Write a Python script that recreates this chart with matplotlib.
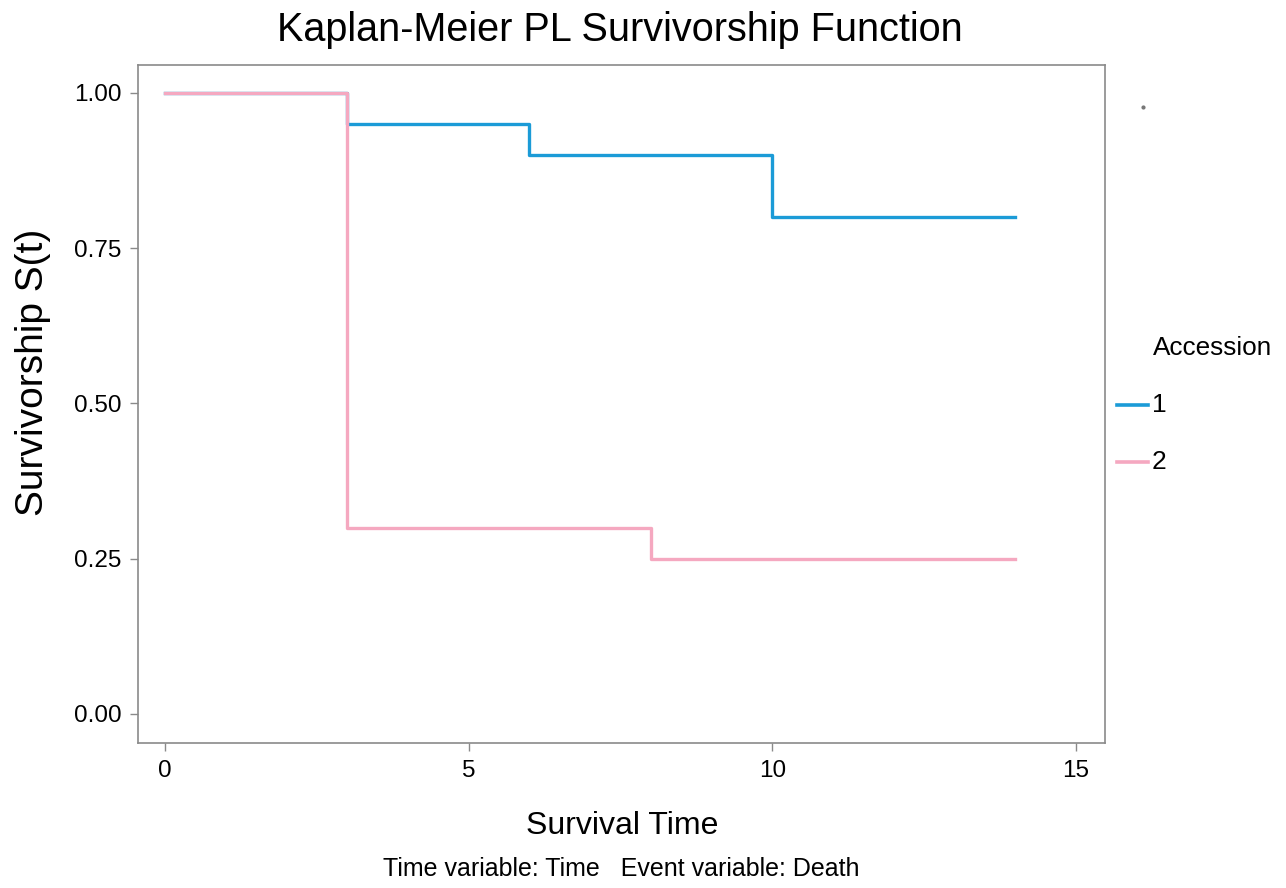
import matplotlib.pyplot as plt
from matplotlib.lines import Line2D

plt.rcParams['font.family'] = ['Liberation Sans', 'DejaVu Sans']

# survival step data (time, S(t)) per accession
time_1 = [0, 3, 6, 10, 14]
surv_1 = [1.00, 0.95, 0.90, 0.80, 0.80]
time_2 = [0, 3, 8, 14]
surv_2 = [1.00, 0.30, 0.25, 0.25]

groups = ['1', '2']
colors = ['#1b9bd7', '#f5a8c0']

xticks = [0, 5, 10, 15]
yticks = [0.00, 0.25, 0.50, 0.75, 1.00]

W, H = 1286, 888
fig = plt.figure(figsize=(W / 100, H / 100), dpi=100)
ax = fig.add_axes([0.1073, 0.1633, 0.752, 0.7635])

ax.step(time_1, surv_1, where='post', color=colors[0], lw=2.4)
ax.step(time_2, surv_2, where='post', color=colors[1], lw=2.4)

ax.set_xlim(-0.445, 15.48)
ax.set_ylim(-0.047, 1.045)
ax.set_xticks(xticks)
ax.set_xticklabels([str(t) for t in xticks])
ax.set_yticks(yticks)
ax.set_yticklabels([f'{v:.2f}' for v in yticks])

for s in ax.spines.values():
    s.set_color('#8a8a8a')
    s.set_linewidth(1.2)
ax.tick_params(colors='#8a8a8a', labelcolor='black', labelsize=17.5,
               length=6, width=1, direction='out', pad=6)

# titles and axis labels placed in pixel terms of the figure
fig.text(620 / W, 1 - 30 / H, 'Kaplan-Meier PL Survivorship Function',
         ha='center', va='center', fontsize=28.5)
fig.text(622 / W, 1 - 826 / H, 'Survival Time',
         ha='center', va='center', fontsize=23)
fig.text(621 / W, 1 - 869 / H, 'Time variable: Time   Event variable: Death',
         ha='center', va='center', fontsize=18)
fig.text(33 / W, 1 - 372 / H, 'Survivorship S(t)', rotation=90,
         ha='center', va='center', fontsize=28)

# legend
fig.text(1153 / W, 1 - 348 / H, 'Accession', ha='left', va='center', fontsize=18.8)
for i, (g, c) in enumerate(zip(groups, colors)):
    yy = 1 - (405 + 57 * i) / H
    fig.add_artist(Line2D([1117 / W, 1148 / W], [yy, yy], color=c, lw=2.6,
                          transform=fig.transFigure))
    fig.text(1152 / W, yy, g, ha='left', va='center', fontsize=19)

# small stray dot at top right, as in the source image
fig.add_artist(Line2D([1143 / W], [1 - 107 / H], marker='o', ms=2,
                      color='#777777', lw=0, transform=fig.transFigure))

fig.savefig('out.png', dpi=100)
